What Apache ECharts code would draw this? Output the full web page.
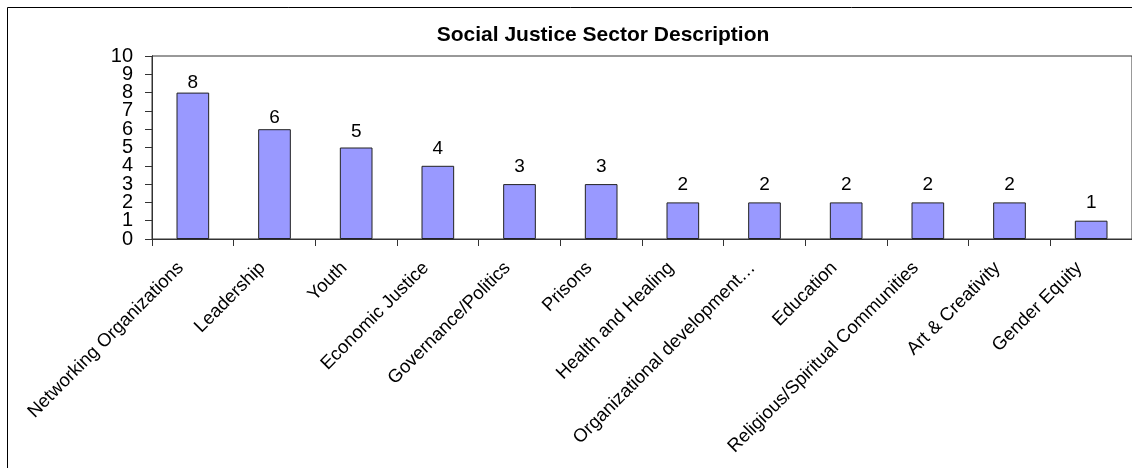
<!DOCTYPE html>
<html><head><meta charset="utf-8">
<script src="https://cdn.jsdelivr.net/npm/echarts@6/dist/echarts.min.js"></script>
<style>html,body{margin:0;padding:0;background:#fff}#c{width:1132px;height:468px}</style>
</head><body><div id="c"></div>
<script>
var categories = ["Networking Organizations","Leadership","Youth","Economic Justice","Governance/Politics","Prisons","Health and Healing","Organizational development\u2026","Education","Religious/Spiritual Communities","Art & Creativity","Gender Equity"];
var values = [8,6,5,4,3,3,2,2,2,2,2,1];
var yTickLabels = ["0","1","2","3","4","5","6","7","8","9","10"];
var yRange = {min:0, max:10, interval:1};
var titleText = "Social Justice Sector Description";
var FONT = "'Liberation Sans', Arial, sans-serif";
var labelGap = function(i){ return i === 0 ? 0 : (i === 1 ? 2 : (i === 2 ? 6 : 8)); };
var chart = echarts.init(document.getElementById('c'));
chart.setOption({
  animation:false,
  backgroundColor:'#fff',
  title:{text:titleText,left:598,top:20,textAlign:'center',textStyle:{fontFamily:FONT,fontSize:21,fontWeight:'bold',color:'#000'}},
  graphic:[{type:'rect',shape:{x:7.5,y:7.5,width:1300,height:600},style:{fill:'none',stroke:'#000',lineWidth:1},silent:true}],
  grid:{left:152,right:-1,top:56,bottom:229,show:true,borderColor:'#333',borderWidth:1,backgroundColor:'transparent'},
  xAxis:{type:'category',data:categories,boundaryGap:true,
    axisLine:{lineStyle:{color:'#333',width:1}},
    axisTick:{show:true,length:7,inside:false,lineStyle:{color:'#333'}},
    axisLabel:{rotate:45,interval:0,margin:14,padding:[0,17,0,0],hideOverlap:false,fontFamily:FONT,fontSize:18.5,color:'#000'}},
  yAxis:[
    {type:'value',min:yRange.min,max:yRange.max,interval:yRange.interval,position:'left',offset:0,
      splitLine:{show:false},
      axisLine:{show:true,lineStyle:{color:'#333',width:1}},
      axisTick:{show:false},
      axisLabel:{show:false}},
    {type:'category',data:yTickLabels,boundaryGap:false,position:'left',offset:0,
      splitLine:{show:false},
      axisLine:{show:true,lineStyle:{color:'#333',width:1}},
      axisTick:{show:true,length:7,interval:0,lineStyle:{color:'#333'}},
      axisLabel:{interval:0,margin:19,hideOverlap:false,fontFamily:FONT,fontSize:20,color:'#000'}}
  ],
  series:[{type:'bar',yAxisIndex:0,barWidth:'40%',
    data:values.map(function(v,i){return {value:v,label:{distance:labelGap(i)}};}),
    itemStyle:{color:'#9999FF',borderColor:'#222',borderWidth:1},
    label:{show:true,position:'top',fontFamily:FONT,fontSize:19,color:'#000'}}]
});
</script></body></html>
